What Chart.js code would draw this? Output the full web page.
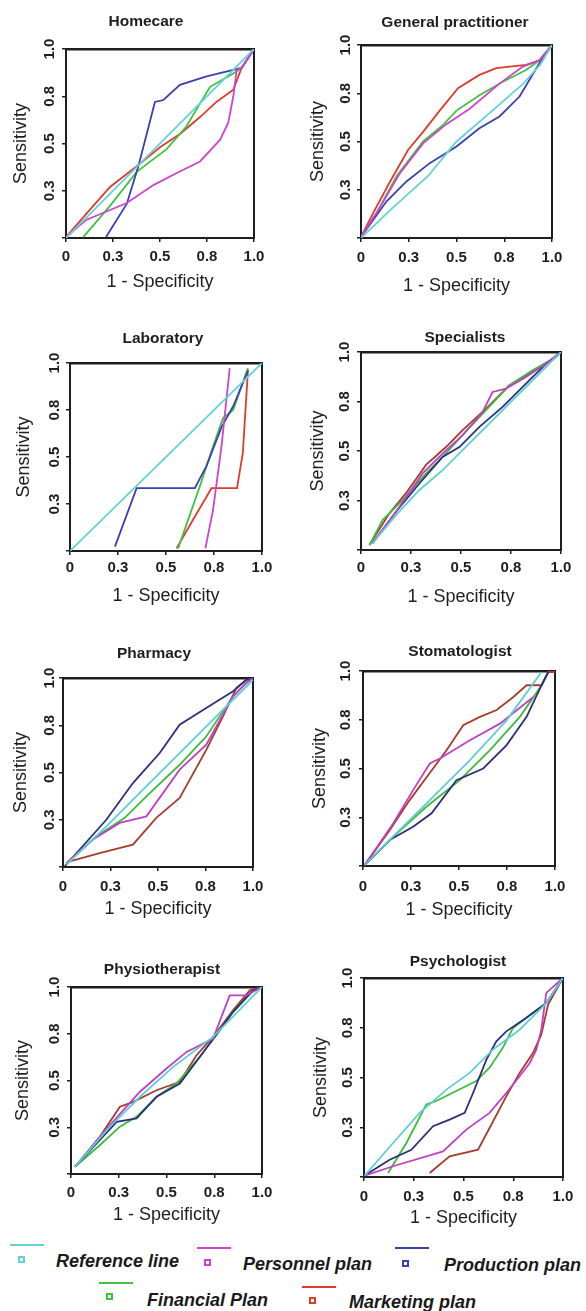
<!DOCTYPE html>
<html>
<head>
<meta charset="utf-8">
<title>ROC curves by service</title>
<script src="https://cdn.jsdelivr.net/npm/chart.js@4.4.1/dist/chart.umd.min.js"></script>
<style>
  html, body { margin: 0; padding: 0; background: #fff; overflow: hidden; }
  body { position: relative; width: 586px; height: 1311px; }
  canvas { position: absolute; }
  .leg-line, .leg-box, .leg-text { position: absolute; }
  .leg-line { width: 34px; height: 2px; }
  .leg-box { width: 7px; height: 7px; border: 2px solid; box-sizing: border-box; }
  .leg-text { font: italic bold 18px "Liberation Sans", Arial, sans-serif; color: #1a1a1a; line-height: 20px; white-space: nowrap; }
</style>
</head>
<body>
<script>
const seriesNames = ["Reference line", "Personnel plan", "Production plan", "Financial Plan", "Marketing plan"];
const seriesColors = ["#62d2d8", "#cc46cc", "#3c40ac", "#3fc23f", "#e03a2c"];
// the lower panels were printed with a darker blue and a brownish red
const darkSeriesColors = ["#5ccfd6", "#c040c4", "#2c2f7a", "#3cbc3c", "#a83c2c"];
const panelTitles = ["Homecare", "General practitioner", "Laboratory", "Specialists",
  "Pharmacy", "Stomatologist", "Physiotherapist", "Psychologist"];
const tickValues = [0, 0.25, 0.5, 0.75, 1];
const xTickLabels = ["0", "0.3", "0.5", "0.8", "1.0"];
const yTickLabels = ["", "0.3", "0.5", "0.8", "1.0"];

// each panel: [reference, personnel, production, financial, marketing] as [1-specificity, sensitivity]
const homecare = [
  [[0, 0], [1, 1]],
  [[0, 0.005], [0.11, 0.097], [0.323, 0.185], [0.465, 0.28], [0.589, 0.344], [0.713, 0.405], [0.82, 0.52], [0.863, 0.61], [0.89, 0.75], [0.908, 0.89], [0.934, 0.9], [1, 1]],
  [[0.213, 0.005], [0.323, 0.18], [0.385, 0.38], [0.473, 0.72], [0.518, 0.73], [0.606, 0.81], [0.748, 0.855], [0.89, 0.89], [0.934, 0.9], [1, 1]],
  [[0.092, 0.005], [0.234, 0.17], [0.376, 0.35], [0.535, 0.47], [0.64, 0.59], [0.766, 0.8], [0.89, 0.87], [0.934, 0.9], [1, 1]],
  [[0, 0.005], [0.11, 0.13], [0.234, 0.27], [0.376, 0.38], [0.5, 0.48], [0.606, 0.55], [0.713, 0.64], [0.8, 0.72], [0.89, 0.785], [0.934, 0.9], [1, 1]]
];
const generalPractitioner = [
  [[0, 0], [0.17, 0.16], [0.35, 0.32], [0.5, 0.5], [0.7, 0.67], [0.85, 0.8], [0.94, 0.9], [1, 1]],
  [[0, 0.005], [0.1, 0.16], [0.2, 0.33], [0.325, 0.49], [0.447, 0.59], [0.569, 0.67], [0.725, 0.8], [0.847, 0.888], [0.934, 0.92], [1, 1]],
  [[0, 0.005], [0.134, 0.19], [0.238, 0.293], [0.36, 0.388], [0.5, 0.474], [0.62, 0.569], [0.725, 0.63], [0.83, 0.733], [0.934, 0.905], [1, 1]],
  [[0, 0.005], [0.082, 0.13], [0.186, 0.32], [0.325, 0.5], [0.43, 0.586], [0.5, 0.66], [0.62, 0.74], [0.743, 0.81], [0.864, 0.87], [0.934, 0.92], [1, 1]],
  [[0, 0.005], [0.064, 0.13], [0.151, 0.29], [0.247, 0.457], [0.325, 0.55], [0.412, 0.66], [0.508, 0.776], [0.62, 0.845], [0.708, 0.88], [0.864, 0.897], [0.934, 0.92], [1, 1]]
];
const laboratory = [
  [[0, 0], [1, 1]],
  [[0.705, 0.014], [0.745, 0.218], [0.789, 0.556], [0.832, 0.973]],
  [[0.234, 0.023], [0.347, 0.334], [0.65, 0.334], [0.71, 0.45], [0.79, 0.66], [0.85, 0.77], [0.927, 0.96]],
  [[0.563, 0.014], [0.676, 0.343], [0.745, 0.556], [0.797, 0.707], [0.85, 0.75], [0.927, 0.973]],
  [[0.555, 0.014], [0.64, 0.165], [0.737, 0.334], [0.87, 0.334], [0.9, 0.52], [0.927, 0.964]]
];
const specialists = [
  [[0.058, 0.034], [0.175, 0.176], [0.292, 0.303], [0.408, 0.403], [0.508, 0.504], [0.625, 0.622], [0.742, 0.74], [0.858, 0.857], [0.975, 0.975], [1, 1]],
  [[0.058, 0.034], [0.175, 0.193], [0.308, 0.387], [0.408, 0.487], [0.508, 0.58], [0.608, 0.697], [0.658, 0.798], [0.725, 0.815], [0.825, 0.874], [0.925, 0.94], [1, 1]],
  [[0.058, 0.034], [0.175, 0.193], [0.292, 0.336], [0.408, 0.47], [0.492, 0.52], [0.592, 0.622], [0.708, 0.723], [0.825, 0.84], [0.925, 0.94], [1, 1]],
  [[0.042, 0.025], [0.108, 0.151], [0.208, 0.252], [0.325, 0.387], [0.408, 0.47], [0.508, 0.58], [0.625, 0.706], [0.742, 0.832], [0.858, 0.908], [0.975, 0.975], [1, 1]],
  [[0.042, 0.025], [0.142, 0.185], [0.225, 0.287], [0.325, 0.43], [0.425, 0.52], [0.508, 0.605], [0.625, 0.714], [0.742, 0.832], [0.858, 0.9], [0.975, 0.975], [1, 1]]
];
const pharmacy = [
  [[0.018, 0.012], [0.228, 0.215], [0.404, 0.392], [0.614, 0.603], [0.807, 0.797], [1, 0.99]],
  [[0.018, 0.02], [0.158, 0.145], [0.298, 0.233], [0.439, 0.268], [0.614, 0.515], [0.754, 0.647], [0.895, 0.903], [0.965, 0.974], [1, 1]],
  [[0.009, 0.004], [0.228, 0.25], [0.368, 0.444], [0.509, 0.603], [0.614, 0.753], [0.754, 0.841], [0.895, 0.93], [0.965, 0.99], [1, 1]],
  [[0.018, 0.02], [0.175, 0.162], [0.325, 0.26], [0.439, 0.374], [0.614, 0.541], [0.754, 0.691], [0.895, 0.903], [0.965, 0.974], [1, 1]],
  [[0.035, 0.03], [0.193, 0.074], [0.368, 0.118], [0.491, 0.26], [0.614, 0.365], [0.754, 0.62], [0.842, 0.797], [0.912, 0.947], [0.965, 0.99], [1, 1]]
];
const stomatologist = [
  [[0.009, 0.005], [0.19, 0.184], [0.365, 0.355], [0.557, 0.543], [0.748, 0.747], [0.93, 0.995]],
  [[0.009, 0.005], [0.157, 0.218], [0.261, 0.389], [0.348, 0.526], [0.4, 0.551], [0.557, 0.645], [0.713, 0.73], [0.887, 0.867]],
  [[0.009, 0.005], [0.139, 0.133], [0.261, 0.201], [0.357, 0.27], [0.487, 0.44], [0.626, 0.5], [0.748, 0.62], [0.852, 0.765], [0.93, 0.927], [0.965, 0.995]],
  [[0.009, 0.005], [0.157, 0.15], [0.33, 0.304], [0.504, 0.44], [0.661, 0.594], [0.817, 0.765], [0.93, 0.927], [0.965, 0.995]],
  [[0.009, 0.005], [0.139, 0.184], [0.243, 0.338], [0.365, 0.5], [0.435, 0.594], [0.522, 0.722], [0.609, 0.765], [0.696, 0.8], [0.783, 0.867], [0.852, 0.927], [0.93, 0.927], [0.965, 0.995], [1, 0.995]]
];
const physiotherapist = [
  [[0.021, 0.039], [0.204, 0.253], [0.361, 0.413], [0.535, 0.573], [0.744, 0.733], [1, 1]],
  [[0.021, 0.039], [0.152, 0.2], [0.274, 0.342], [0.361, 0.44], [0.5, 0.564], [0.605, 0.653], [0.744, 0.724], [0.831, 0.955], [0.918, 0.955], [1, 1]],
  [[0.021, 0.039], [0.239, 0.279], [0.343, 0.297], [0.448, 0.413], [0.57, 0.484], [0.674, 0.626], [0.848, 0.866], [0.953, 0.982], [1, 1]],
  [[0.021, 0.039], [0.152, 0.155], [0.256, 0.253], [0.343, 0.306], [0.448, 0.413], [0.552, 0.484], [0.674, 0.626], [0.761, 0.742], [0.848, 0.866], [0.953, 0.982], [1, 1]],
  [[0.021, 0.039], [0.152, 0.2], [0.256, 0.36], [0.326, 0.386], [0.448, 0.448], [0.57, 0.493], [0.657, 0.635], [0.744, 0.733], [0.848, 0.875], [0.936, 0.982], [1, 1]]
];
const psychologist = [
  [[0.003, 0.007], [0.146, 0.171], [0.28, 0.322], [0.414, 0.439], [0.531, 0.523], [0.648, 0.64], [0.782, 0.74], [0.916, 0.874], [1, 1]],
  [[0.003, 0.007], [0.146, 0.054], [0.397, 0.129], [0.514, 0.238], [0.631, 0.322], [0.715, 0.422], [0.782, 0.506], [0.833, 0.573], [0.866, 0.64], [0.891, 0.74], [0.916, 0.925], [1, 1]],
  [[0.003, 0.007], [0.129, 0.087], [0.238, 0.137], [0.347, 0.255], [0.43, 0.288], [0.506, 0.322], [0.548, 0.422], [0.615, 0.59], [0.665, 0.682], [0.715, 0.732], [0.816, 0.8], [0.916, 0.874], [1, 1]],
  [[0.121, 0.02], [0.213, 0.171], [0.313, 0.365], [0.363, 0.382], [0.564, 0.482], [0.631, 0.549], [0.698, 0.65], [0.749, 0.749], [0.816, 0.8], [0.916, 0.874], [1, 1]],
  [[0.33, 0.02], [0.43, 0.104], [0.573, 0.137], [0.631, 0.246], [0.715, 0.405], [0.782, 0.523], [0.849, 0.623], [0.891, 0.715], [0.925, 0.866], [1, 1]]
];
const panelData = [homecare, generalPractitioner, laboratory, specialists,
  pharmacy, stomatologist, physiotherapist, psychologist];

// where each plot box and its texts sit on the page (px)
const panelBoxes = [
  { L: 66, T: 49, R: 254, B: 238, tx: 146, ty: 21, xTickY: 257, xTitleY: 282, yTitleX: 21, yTickX: 50 },
  { L: 361, T: 45, R: 552, B: 238, tx: 455, ty: 22, xTickY: 258, xTitleY: 286, yTitleX: 318, yTickX: 346 },
  { L: 70, T: 363, R: 262, B: 551, tx: 163, ty: 338, xTickY: 568, xTitleY: 596, yTitleX: 24, yTickX: 55 },
  { L: 361, T: 352, R: 561, B: 550, tx: 465, ty: 337, xTickY: 568, xTitleY: 597, yTitleX: 318, yTickX: 345 },
  { L: 63, T: 678, R: 253, B: 867, tx: 154, ty: 653, xTickY: 887, xTitleY: 909, yTitleX: 21, yTickX: 50 },
  { L: 363, T: 671, R: 555, B: 866, tx: 460, ty: 651, xTickY: 887, xTitleY: 910, yTitleX: 320, yTickX: 346 },
  { L: 71, T: 987, R: 262, B: 1174, tx: 162, ty: 969, xTickY: 1193, xTitleY: 1215, yTitleX: 23, yTickX: 55 },
  { L: 364, T: 978, R: 563, B: 1177, tx: 458, ty: 961, xTickY: 1197, xTitleY: 1218, yTitleX: 321, yTickX: 348 }
];

const legendSpots = [
  { lineX: 10, lineY: 1245, boxX: 21, boxY: 1259, textX: 56, textY: 1261 },
  { lineX: 197, lineY: 1248, boxX: 207, boxY: 1262, textX: 243, textY: 1264 },
  { lineX: 395, lineY: 1248, boxX: 405, boxY: 1263, textX: 444, textY: 1265 },
  { lineX: 99, lineY: 1283, boxX: 109, boxY: 1296, textX: 147, textY: 1300 },
  { lineX: 302, lineY: 1287, boxX: 312, boxY: 1300, textX: 349, textY: 1302 }
];

const TITLE_SIZE = 15.5, AXIS_SIZE = 18, TICK_SIZE = 15;
const TITLE_LH = TITLE_SIZE * 1.2, AXIS_LH = AXIS_SIZE * 1.2, TICK_LH = TICK_SIZE * 1.2;
const TICK_LEN = 4, WIDEST_TICK = TICK_SIZE * 1.39;
const INK = "#1e1e1e";

Chart.defaults.font.family = "'Liberation Sans', Arial, sans-serif";
Chart.defaults.color = INK;

function setTicks(scale) {
  scale.ticks = tickValues.map(v => ({ value: v }));
}

function makePanel(i) {
  const box = panelBoxes[i];
  const colors = i >= 3 ? darkSeriesColors : seriesColors;
  const left = Math.round(box.yTitleX - AXIS_LH / 2);
  const right = 2 * box.tx - left;
  const top = Math.round(box.ty - TITLE_LH / 2);
  const bottom = Math.round(box.xTitleY + AXIS_LH / 2);

  const canvas = document.createElement("canvas");
  canvas.width = right - left;
  canvas.height = bottom - top;
  canvas.style.left = left + "px";
  canvas.style.top = top + "px";
  document.body.appendChild(canvas);

  const yAxisWidth = box.L - left;
  const rightGap = right - box.R;
  const xAxisHeight = bottom - box.B;

  new Chart(canvas.getContext("2d"), {
    type: "line",
    data: {
      datasets: panelData[i].map((points, s) => ({
        label: seriesNames[s],
        data: points.map(([x, y]) => ({ x, y })),
        borderColor: colors[s],
        backgroundColor: colors[s],
        borderWidth: 1.8,
        pointRadius: 0,
        tension: 0,
        fill: false
      }))
    },
    options: {
      responsive: false,
      animation: false,
      devicePixelRatio: 1,
      layout: { padding: 0 },
      scales: {
        x: {
          type: "linear",
          position: "bottom",
          min: 0,
          max: 1,
          afterBuildTicks: setTicks,
          afterFit: s => { s.height = xAxisHeight; },
          ticks: {
            autoSkip: false,
            maxRotation: 0,
            minRotation: 0,
            padding: box.xTickY - box.B - TICK_LEN - TICK_LH / 2,
            font: { size: TICK_SIZE, weight: "bold" },
            color: INK,
            callback: (v, idx) => xTickLabels[idx]
          },
          grid: { drawOnChartArea: false, drawTicks: true, tickLength: TICK_LEN, color: INK, lineWidth: 1.5 },
          border: { display: true, color: INK, width: 2 },
          title: { display: true, text: "1 - Specificity", font: { size: AXIS_SIZE }, color: INK, padding: { top: 0, bottom: 0 } }
        },
        y: {
          type: "linear",
          position: "left",
          min: 0,
          max: 1,
          afterBuildTicks: setTicks,
          afterFit: s => { s.width = yAxisWidth; },
          ticks: {
            autoSkip: false,
            minRotation: 90,
            maxRotation: 90,
            crossAlign: "center",
            padding: box.L - TICK_LEN - box.yTickX - WIDEST_TICK / 2,
            font: { size: TICK_SIZE, weight: "bold" },
            color: INK,
            callback: (v, idx) => yTickLabels[idx]
          },
          grid: { drawOnChartArea: false, drawTicks: true, tickLength: TICK_LEN, color: INK, lineWidth: 1.5 },
          border: { display: true, color: INK, width: 2 },
          title: { display: true, text: "Sensitivity", font: { size: AXIS_SIZE }, color: INK, padding: { top: 0, bottom: 0 } }
        },
        xTop: {
          type: "linear",
          position: "top",
          min: 0,
          max: 1,
          afterFit: s => { s.height = 0; },
          ticks: { display: false },
          grid: { display: false, drawTicks: false },
          border: { display: true, color: INK, width: 2.5 }
        },
        yRight: {
          type: "linear",
          position: "right",
          min: 0,
          max: 1,
          afterFit: s => { s.width = rightGap; },
          ticks: { display: false },
          grid: { display: false, drawTicks: false },
          border: { display: true, color: INK, width: 2 }
        }
      },
      plugins: {
        legend: { display: false },
        tooltip: { enabled: false },
        title: {
          display: true,
          text: panelTitles[i],
          color: INK,
          font: { size: TITLE_SIZE, weight: "bold" },
          padding: { top: 0, bottom: box.T - top - TITLE_LH }
        }
      }
    }
  });
}

panelTitles.forEach((t, i) => makePanel(i));

// legend under the grid
seriesNames.forEach((name, s) => {
  const spot = legendSpots[s];
  const line = document.createElement("div");
  line.className = "leg-line";
  line.style.left = spot.lineX + "px";
  line.style.top = (spot.lineY - 1) + "px";
  line.style.background = seriesColors[s];
  const sq = document.createElement("div");
  sq.className = "leg-box";
  sq.style.left = (spot.boxX - 3.5) + "px";
  sq.style.top = (spot.boxY - 3.5) + "px";
  sq.style.borderColor = seriesColors[s];
  const txt = document.createElement("div");
  txt.className = "leg-text";
  txt.style.left = spot.textX + "px";
  txt.style.top = (spot.textY - 10) + "px";
  txt.textContent = name;
  document.body.append(line, sq, txt);
});
</script>
</body>
</html>
